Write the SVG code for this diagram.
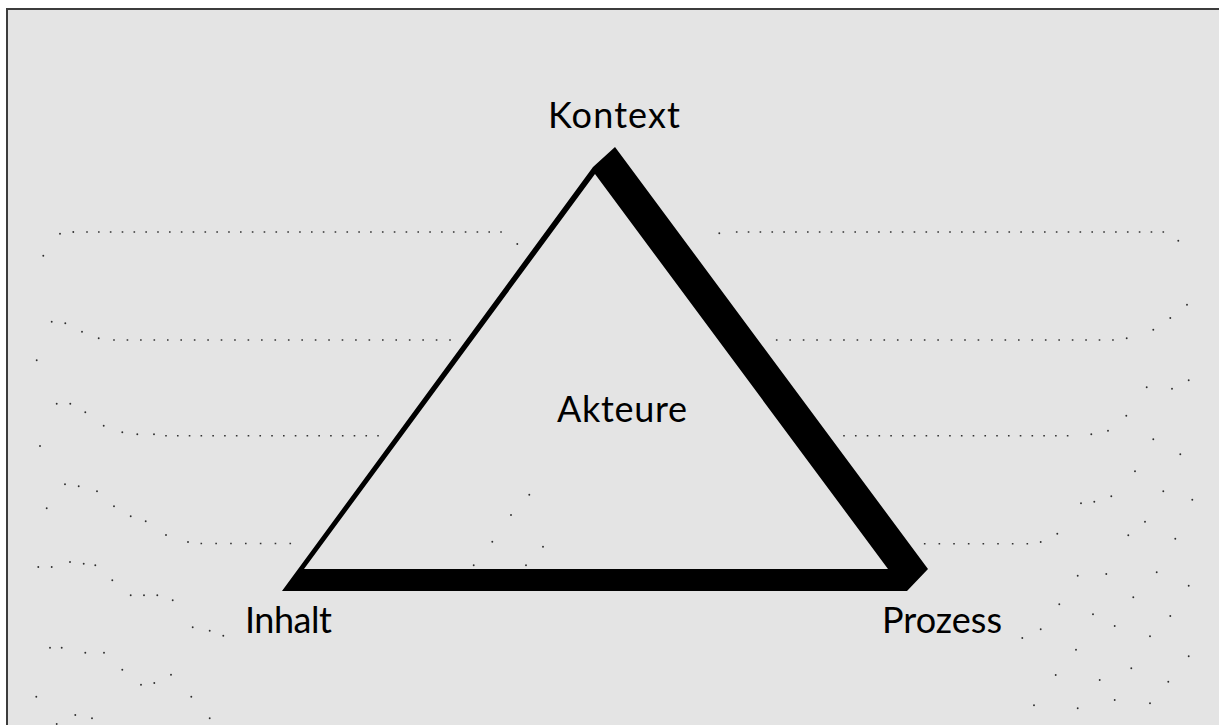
<svg xmlns="http://www.w3.org/2000/svg" xmlns:xlink="http://www.w3.org/1999/xlink" width="1219" height="725" viewBox="0 0 1219 725">
<style>
.lbl{font-family:Lato,"Liberation Sans",sans-serif;font-size:36px;fill:#000;}
.row{stroke:#333;stroke-width:1.6;fill:none;}
.frame{stroke:#3c3c3c;stroke-width:2;fill:none;}
</style>
<defs>
<circle id="d" cx="0" cy="0" r="0.95" fill="#2e2e2e"/>
</defs>
<rect x="0" y="0" width="1219" height="725" fill="#ffffff"/>
<rect x="7" y="9" width="1212" height="716" fill="#e4e4e4"/>
<path class="frame" d="M7,725 L7,9 L1219,9"/>

<g id="dots">
<line class="row" x1="86.2" y1="232" x2="501.8" y2="232" stroke-dasharray="1.6 10.23"/>
<line class="row" x1="735.9" y1="232" x2="1164.1" y2="232" stroke-dasharray="1.6 10.25"/>
<line class="row" x1="113.2" y1="340" x2="450.8" y2="340" stroke-dasharray="1.6 11.84"/>
<line class="row" x1="775.9" y1="340" x2="1113.8" y2="340" stroke-dasharray="1.6 11.85"/>
<line class="row" x1="165.2" y1="435.7" x2="378.8" y2="435.7" stroke-dasharray="1.6 10.18"/>
<line class="row" x1="843.2" y1="435.7" x2="1068.5" y2="435.7" stroke-dasharray="1.6 10.17"/>
<line class="row" x1="200.5" y1="543.5" x2="291.1" y2="543.5" stroke-dasharray="1.6 13.23"/>
<line class="row" x1="923.9" y1="543.7" x2="1028.1" y2="543.7" stroke-dasharray="1.6 13.06"/>

<use href="#d" x="73.3" y="232"/><use href="#d" x="60" y="233.7"/><use href="#d" x="43.3" y="255.7"/><use href="#d" x="517.3" y="244"/>
<use href="#d" x="719.3" y="233.3"/><use href="#d" x="1178.3" y="240.7"/>
<use href="#d" x="51.7" y="321.7"/><use href="#d" x="65.3" y="323.3"/><use href="#d" x="82" y="331.7"/><use href="#d" x="98.7" y="338.3"/><use href="#d" x="36.7" y="360.3"/>
<use href="#d" x="1126.7" y="338.3"/><use href="#d" x="1153.3" y="329.7"/><use href="#d" x="1170.3" y="318"/><use href="#d" x="1187" y="304.7"/>
<use href="#d" x="56.7" y="403.7"/><use href="#d" x="70.3" y="403.7"/><use href="#d" x="85.3" y="412.3"/><use href="#d" x="103.7" y="425.7"/><use href="#d" x="122.3" y="432.3"/><use href="#d" x="137.3" y="434.3"/><use href="#d" x="154" y="434.3"/><use href="#d" x="40" y="446"/>
<use href="#d" x="1091.3" y="434.3"/><use href="#d" x="1108" y="430.7"/><use href="#d" x="1126.3" y="415.7"/><use href="#d" x="1146.7" y="387.3"/><use href="#d" x="1172" y="388.7"/><use href="#d" x="1188.7" y="380.3"/><use href="#d" x="1153.3" y="439.3"/>
<use href="#d" x="65" y="484.3"/><use href="#d" x="78.7" y="486.3"/><use href="#d" x="97" y="491.3"/><use href="#d" x="114" y="506.3"/><use href="#d" x="130.7" y="516.3"/><use href="#d" x="145.7" y="521.3"/><use href="#d" x="166" y="535"/><use href="#d" x="188" y="542"/><use href="#d" x="46.7" y="508.3"/>
<use href="#d" x="38.3" y="567"/><use href="#d" x="51.7" y="567"/><use href="#d" x="70" y="562"/><use href="#d" x="83.7" y="563.7"/><use href="#d" x="95.3" y="565.3"/><use href="#d" x="112.3" y="580.3"/><use href="#d" x="130.7" y="595.3"/><use href="#d" x="144" y="595.3"/><use href="#d" x="157.3" y="595.3"/><use href="#d" x="172.7" y="600.3"/><use href="#d" x="192.7" y="627.3"/><use href="#d" x="209.7" y="630.7"/><use href="#d" x="223.3" y="635.7"/>
<use href="#d" x="50" y="647.7"/><use href="#d" x="61.7" y="647.7"/><use href="#d" x="85.3" y="652.7"/><use href="#d" x="104" y="652.7"/><use href="#d" x="122.3" y="669.7"/><use href="#d" x="171" y="674.7"/><use href="#d" x="154.3" y="683"/><use href="#d" x="141" y="684.7"/><use href="#d" x="36.3" y="696.7"/><use href="#d" x="191.3" y="696.7"/><use href="#d" x="75.3" y="715"/><use href="#d" x="92" y="718.3"/><use href="#d" x="209.7" y="718.3"/><use href="#d" x="56.7" y="724"/>
<use href="#d" x="1040.7" y="542"/><use href="#d" x="1057.3" y="533.7"/><use href="#d" x="1081" y="503.3"/><use href="#d" x="1094.3" y="501.7"/><use href="#d" x="1111.3" y="496.3"/><use href="#d" x="1135" y="471.3"/><use href="#d" x="1180.3" y="454.3"/><use href="#d" x="1163.3" y="491.3"/><use href="#d" x="1192.3" y="499.7"/><use href="#d" x="1145" y="521.7"/><use href="#d" x="1128.3" y="535.3"/><use href="#d" x="1175.3" y="538.7"/>
<use href="#d" x="1077.7" y="575.7"/><use href="#d" x="1106.3" y="574"/><use href="#d" x="1156.7" y="572.3"/><use href="#d" x="1188.7" y="585.7"/><use href="#d" x="1133.3" y="597.3"/><use href="#d" x="1059.3" y="604.3"/><use href="#d" x="1093" y="614.3"/><use href="#d" x="1170.3" y="616"/><use href="#d" x="1040.7" y="629.3"/><use href="#d" x="1022.3" y="638"/><use href="#d" x="1114.7" y="626"/><use href="#d" x="1150" y="636.3"/><use href="#d" x="1076" y="649.7"/><use href="#d" x="1188.7" y="656.3"/><use href="#d" x="1131.3" y="668.3"/><use href="#d" x="1055.7" y="675"/><use href="#d" x="1099.7" y="680"/><use href="#d" x="1168.3" y="681.7"/><use href="#d" x="1114.7" y="700"/><use href="#d" x="1150" y="703.3"/><use href="#d" x="1034" y="705.3"/><use href="#d" x="1077.7" y="708.3"/>
<use href="#d" x="529.3" y="494.7"/><use href="#d" x="511" y="515"/><use href="#d" x="492.3" y="541.7"/><use href="#d" x="543" y="546.7"/><use href="#d" x="473.7" y="565.3"/><use href="#d" x="526" y="565.3"/>
</g>

<g id="connectors">
<path id="triangle" fill="#000" fill-rule="evenodd" d="M615,147 L928,569 L907,591 L282,591 L593,167 Z M595,174 L888,569 L304,569 Z"/>
</g>

<g id="node-kontext"><text class="lbl" x="548" y="128" textLength="132">Kontext</text></g>
<g id="node-akteure"><text class="lbl" x="557" y="422" textLength="130">Akteure</text></g>
<g id="node-inhalt"><text class="lbl" x="245" y="633" textLength="87">Inhalt</text></g>
<g id="node-prozess"><text class="lbl" x="882" y="633" textLength="120">Prozess</text></g>
</svg>
